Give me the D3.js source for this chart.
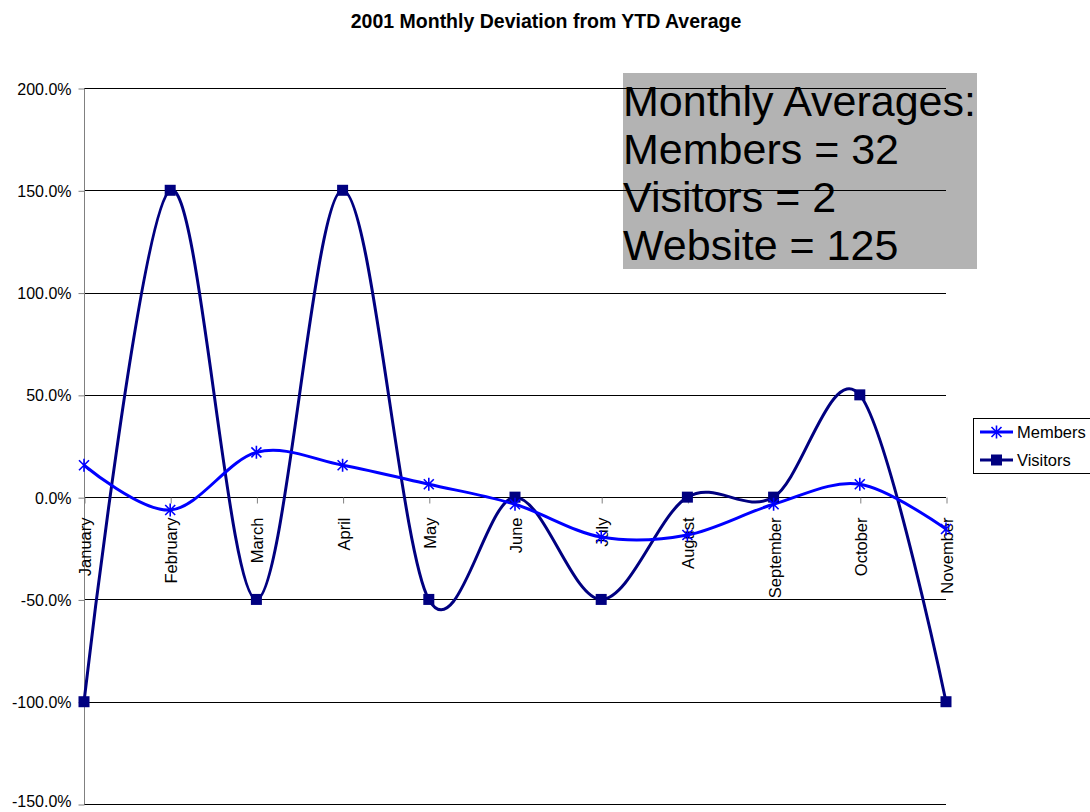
<!DOCTYPE html>
<html><head><meta charset="utf-8">
<script src="https://cdn.jsdelivr.net/npm/d3@7"></script>
<style>body{margin:0;background:#fff}svg{display:block;font-family:"Liberation Sans",Arial,sans-serif}</style>
</head><body>
<svg id="c" width="1090" height="812"></svg>
<script>
const months = ["January","February","March","April","May","June","July","August","September","October","November"];
const members = [15.6, -6.3, 21.9, 15.6, 6.3, -3.5, -19.5, -18.5, -3.5, 6.3, -15.6];
const visitors = [-100, 150, -50, 150, -50, 0, -50, 0, 0, 50, -100];
const yTicks = [200, 150, 100, 50, 0, -50, -100, -150];
const noteLines = ["Monthly Averages:", "Members = 32", "Visitors = 2", "Website = 125"];
const seriesNames = ["Members", "Visitors"];

const svg = d3.select("#c");
const x = d3.scalePoint().domain(months).range([84, 946]).padding(0);
const y = d3.scaleLinear().domain([-150, 200]).range([804, 88]);

svg.append("text").attr("x", 546).attr("y", 28).attr("text-anchor", "middle")
  .attr("font-weight", "bold").attr("font-size", 19.5).text("2001 Monthly Deviation from YTD Average");

// note box
svg.append("rect").attr("x", 623).attr("y", 73).attr("width", 354).attr("height", 196).attr("fill", "#b3b3b3");
svg.append("g").selectAll("text").data(noteLines).join("text")
  .attr("x", 623).attr("y", (d, i) => 116 + i * 48).attr("font-size", 43).attr("fill", "#000").text(d => d);

// gridlines
svg.append("g").selectAll("line").data(yTicks).join("line")
  .attr("x1", 84).attr("x2", 946)
  .attr("y1", d => Math.round(y(d)) + 0.5).attr("y2", d => Math.round(y(d)) + 0.5)
  .attr("stroke", "#000").attr("stroke-width", 1);

// y axis
const yAxis = d3.axisLeft(y).tickValues(yTicks).tickSize(6).tickPadding(6)
  .tickFormat(d => d.toFixed(1) + "%");
const gy = svg.append("g").attr("transform", "translate(84.5,0.5)").call(yAxis);
gy.select(".domain").attr("stroke", "#808080").attr("d", `M0,${y(200)}V${y(-150)}`);
gy.selectAll(".tick line").attr("stroke", "#808080");
gy.selectAll(".tick text").attr("font-size", 16).attr("font-family", "'Liberation Sans',Arial,sans-serif").attr("fill", "#000")
  .attr("dy", d => d === -150 ? "0.1em" : "0.35em").attr("x", -13);

// x axis at 0
const xAxis = d3.axisBottom(x).tickSize(6).tickSizeOuter(0);
const gx = svg.append("g").attr("transform", `translate(0.5,${Math.round(y(0)) + 0.5})`).call(xAxis);
gx.select(".domain").remove();
gx.selectAll(".tick line").attr("stroke", "#808080");
gx.selectAll(".tick text").attr("font-size", 16.5).attr("font-family", "'Liberation Sans',Arial,sans-serif").attr("fill", "#000")
  .attr("text-anchor", "end").attr("transform", "rotate(-90)").attr("x", -20).attr("y", 0).attr("dy", "0.36em");

const line = d3.line().x((d, i) => x(months[i])).y(d => y(d)).curve(d3.curveCatmullRom.alpha(0));

svg.append("path").datum(visitors).attr("d", line).attr("fill", "none").attr("stroke", "#000080").attr("stroke-width", 3);
svg.append("path").datum(members).attr("d", line).attr("fill", "none").attr("stroke", "#0000ff").attr("stroke-width", 3);

function star(g, cx, cy, s) {
  g.append("path").attr("d", `M${cx - s},${cy - s}L${cx + s},${cy + s}M${cx - s},${cy + s}L${cx + s},${cy - s}M${cx},${cy - s * 1.3}V${cy + s * 1.3}`)
    .attr("stroke", "#0000ff").attr("stroke-width", 1.6).attr("fill", "none");
}
const gv = svg.append("g");
visitors.forEach((v, i) => gv.append("rect").attr("x", x(months[i]) - 5.5).attr("y", y(v) - 5.5).attr("width", 11).attr("height", 11).attr("fill", "#000080"));
const gm = svg.append("g");
members.forEach((v, i) => star(gm, x(months[i]), y(v), 5));

// legend
const lg = svg.append("g");
lg.append("rect").attr("x", 973.5).attr("y", 418.5).attr("width", 130).attr("height", 55).attr("fill", "#fff").attr("stroke", "#000");
seriesNames.forEach((n, i) => {
  const ly = 432 + i * 28;
  lg.append("line").attr("x1", 980).attr("x2", 1013).attr("y1", ly).attr("y2", ly)
    .attr("stroke", i === 0 ? "#0000ff" : "#000080").attr("stroke-width", 3);
  if (i === 0) star(lg, 996.5, ly, 5);
  else lg.append("rect").attr("x", 991).attr("y", ly - 5.5).attr("width", 11).attr("height", 11).attr("fill", "#000080");
  lg.append("text").attr("x", 1017).attr("y", ly).attr("dy", "0.36em").attr("font-size", 16.5).text(n);
});
</script>
</body></html>
